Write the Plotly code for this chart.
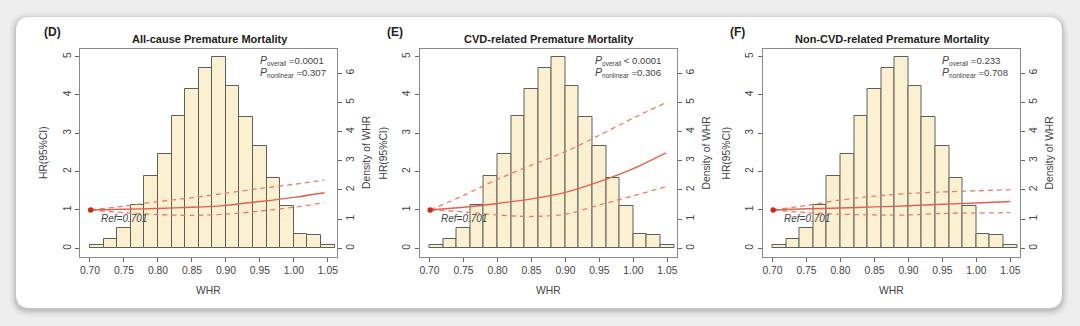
import plotly.graph_objects as go

W, H = 1080, 326

# ---------------- data ----------------
bin_left = [0.70, 0.72, 0.74, 0.76, 0.78, 0.80, 0.82, 0.84, 0.86,
            0.88, 0.90, 0.92, 0.94, 0.96, 0.98, 1.00, 1.02, 1.04]
bin_width = 0.02
density = [0.113, 0.33, 0.71, 1.48, 2.49, 3.24, 4.52, 5.46, 6.17,
           6.55, 5.57, 4.49, 3.50, 2.41, 1.44, 0.48, 0.47, 0.12]

panel_labels = ["(D)", "(E)", "(F)"]
titles = ["All-cause Premature Mortality",
          "CVD-related Premature Mortality",
          "Non-CVD-related Premature Mortality"]
p_overall = ["=0.0001", "< 0.0001", "=0.233"]
p_nonlinear = ["=0.307", "=0.306", "=0.708"]
ref_whr = 0.701
ref_hr = 1.0

whr_D = [0.701, 0.75, 0.80, 0.85, 0.90, 0.95, 1.00, 1.045]
hr_D = [1.0, 1.02, 1.04, 1.07, 1.12, 1.22, 1.33, 1.45]
hr_upper_D = [1.0, 1.10, 1.22, 1.32, 1.44, 1.56, 1.67, 1.78]
hr_lower_D = [1.0, 0.93, 0.88, 0.86, 0.89, 0.97, 1.07, 1.19]

whr_E = [0.701, 0.75, 0.80, 0.85, 0.90, 0.95, 1.00, 1.048]
hr_E = [1.0, 1.07, 1.17, 1.29, 1.46, 1.74, 2.08, 2.49]
hr_upper_E = [1.0, 1.38, 1.80, 2.17, 2.52, 2.95, 3.40, 3.80]
hr_lower_E = [1.0, 0.95, 0.87, 0.83, 0.89, 1.13, 1.37, 1.61]

whr_F = [0.701, 0.75, 0.80, 0.85, 0.90, 0.95, 1.00, 1.05]
hr_F = [1.0, 1.03, 1.05, 1.08, 1.11, 1.15, 1.18, 1.22]
hr_upper_F = [1.0, 1.12, 1.26, 1.36, 1.43, 1.47, 1.50, 1.53]
hr_lower_F = [1.0, 0.93, 0.89, 0.87, 0.87, 0.91, 0.92, 0.93]

x_ticks = [0.70, 0.75, 0.80, 0.85, 0.90, 0.95, 1.00, 1.05]
hr_ticks = [0, 1, 2, 3, 4, 5]
density_ticks = [0, 1, 2, 3, 4, 5, 6]

curves = [
    (whr_D, hr_D, hr_upper_D, hr_lower_D),
    (whr_E, hr_E, hr_upper_E, hr_lower_E),
    (whr_F, hr_F, hr_upper_F, hr_lower_F),
]

# ---------------- style / layout ----------------
FONT = "Liberation Sans, Arial, sans-serif"
TXT = "#444444"
BOX = "#8a8a8a"
BAR_FILL = "#FBF1D1"
BAR_LINE = "#5e5e5e"
RED = "#E4604E"
RED_DASH = "#E87D6C"
DOT = "#C92A1E"

box_left_px = [80, 419.5, 762.5]
box_w_px = 257
box_top_px, box_bot_px = 49, 257
x_range = [0.6853, 1.0635]
hr_range = [-0.227, 5.20]
dens_range = [-0.298, 6.83]


def PX(px):
    return px / W


def PY(py):
    return 1 - py / H


ydom = [PY(box_bot_px), PY(box_top_px)]

fig = go.Figure()
layout = dict(
    width=W, height=H,
    margin=dict(l=0, r=0, t=0, b=0),
    paper_bgcolor="#eeeeee",
    plot_bgcolor="rgba(0,0,0,0)",
    showlegend=False,
    font=dict(family=FONT, color=TXT, size=10.3),
    bargap=0,
)

annotations = []
shapes = []


def rr_path(x0, y0, x1, y1, r):
    return (f"M {PX(x0 + r)},{PY(y0)} L {PX(x1 - r)},{PY(y0)} "
            f"Q {PX(x1)},{PY(y0)} {PX(x1)},{PY(y0 + r)} "
            f"L {PX(x1)},{PY(y1 - r)} Q {PX(x1)},{PY(y1)} {PX(x1 - r)},{PY(y1)} "
            f"L {PX(x0 + r)},{PY(y1)} Q {PX(x0)},{PY(y1)} {PX(x0)},{PY(y1 - r)} "
            f"L {PX(x0)},{PY(y0 + r)} Q {PX(x0)},{PY(y0)} {PX(x0 + r)},{PY(y0)} Z")


# card shadow + card
for k, a in [(7, 0.025), (5, 0.035), (3, 0.05), (1.5, 0.07)]:
    shapes.append(dict(type="path", xref="paper", yref="paper", layer="below",
                       path=rr_path(16 - k, 17 - k + 2, 1062 + k, 308 + k + 2, 14 + k),
                       fillcolor=f"rgba(0,0,0,{a})", line=dict(width=0)))
shapes.append(dict(type="path", xref="paper", yref="paper", layer="below",
                   path=rr_path(16, 17, 1062, 308, 14),
                   fillcolor="#ffffff", line=dict(width=0)))

bar_centers = [b + bin_width / 2 for b in bin_left]

for i in range(3):
    xn = i + 1
    yd = 2 * i + 1   # density axis (right)
    yh = 2 * i + 2   # HR axis (left, overlay)
    xs = "" if xn == 1 else str(xn)
    xref = f"x{xs}"
    yd_ref = "y" if yd == 1 else f"y{yd}"
    yh_ref = f"y{yh}"
    x0 = box_left_px[i]
    x1 = x0 + box_w_px

    layout[f"xaxis{xs}"] = dict(
        domain=[PX(x0), PX(x1)], range=x_range, anchor=yd_ref,
        tickmode="array", tickvals=x_ticks, tickformat=".2f",
        ticks="outside", ticklen=4, tickcolor="#666666", tickwidth=1,
        showline=True, mirror=True, linecolor=BOX, linewidth=1,
        showgrid=False, zeroline=False,
        tickfont=dict(size=10.3, color=TXT, family=FONT),
    )
    layout[f"yaxis{'' if yd == 1 else yd}"] = dict(
        domain=ydom, range=dens_range, anchor=xref, side="right",
        tickmode="array", tickvals=density_ticks, tickangle=-90,
        ticks="outside", ticklen=4, tickcolor="#666666", tickwidth=1,
        showline=True, mirror=True, linecolor=BOX, linewidth=1,
        showgrid=False, zeroline=False,
        tickfont=dict(size=10.3, color=TXT, family=FONT),
    )
    layout[f"yaxis{yh}"] = dict(
        domain=ydom, range=hr_range, anchor=xref, side="left",
        overlaying=yd_ref,
        tickmode="array", tickvals=hr_ticks, tickangle=-90,
        ticks="outside", ticklen=4, tickcolor="#666666", tickwidth=1,
        showline=False, showgrid=False, zeroline=False,
        tickfont=dict(size=10.3, color=TXT, family=FONT),
    )

    fig.add_trace(go.Bar(
        x=bar_centers, y=density, width=bin_width,
        marker=dict(color=BAR_FILL, line=dict(color=BAR_LINE, width=1)),
        xaxis=xref, yaxis=yd_ref, hoverinfo="skip",
    ))

    whr, hr, up, lo = curves[i]
    for yy, col, dash, wdt in [(up, RED_DASH, "5px,4px", 1.3),
                               (lo, RED_DASH, "5px,4px", 1.3),
                               (hr, RED, "solid", 1.4)]:
        fig.add_trace(go.Scatter(
            x=whr, y=yy, mode="lines",
            line=dict(color=col, width=wdt, dash=dash, shape="spline", smoothing=0.8),
            xaxis=xref, yaxis=yh_ref, hoverinfo="skip",
        ))
    fig.add_trace(go.Scatter(
        x=[ref_whr], y=[ref_hr], mode="markers",
        marker=dict(color=DOT, size=5.5),
        xaxis=xref, yaxis=yh_ref, hoverinfo="skip",
    ))

    # texts
    cx = (x0 + x1) / 2
    annotations.append(dict(xref="paper", yref="paper", x=PX(cx + 1), y=PY(39.5),
                            text=f"<b>{titles[i]}</b>", showarrow=False,
                            xanchor="center", yanchor="middle",
                            font=dict(size=11, color="#222222", family=FONT)))
    annotations.append(dict(xref="paper", yref="paper", x=PX(x0 - 28 if i == 0 else x0 - 25),
                            y=PY(32), text=f"<b>{panel_labels[i]}</b>", showarrow=False,
                            xanchor="center", yanchor="middle",
                            font=dict(size=12, color="#222222", family=FONT)))
    annotations.append(dict(xref="paper", yref="paper", x=PX(cx), y=PY(290),
                            text="WHR", showarrow=False,
                            xanchor="center", yanchor="middle",
                            font=dict(size=10.3, color=TXT, family=FONT)))
    annotations.append(dict(xref="paper", yref="paper", x=PX(x0 - 36), y=PY(153),
                            text="HR(95%CI)", showarrow=False, textangle=-90,
                            xanchor="center", yanchor="middle",
                            font=dict(size=10.3, color=TXT, family=FONT)))
    annotations.append(dict(xref="paper", yref="paper", x=PX(x1 + 30), y=PY(153),
                            text="Density of WHR", showarrow=False, textangle=-90,
                            xanchor="center", yanchor="middle",
                            font=dict(size=10.3, color=TXT, family=FONT)))
    p_x = [0.947, 0.940, 0.9465][i]
    sub_style = "font-size:6.5px"
    annotations.append(dict(xref=xref, yref=yh_ref, x=p_x, y=4.89,
                            text=(f"<i><span style='font-size:10.5px'>P</span></i>"
                                  f"<sub><span style='{sub_style}'>overall</span></sub> {p_overall[i]}"),
                            showarrow=False, xanchor="left", yanchor="middle",
                            font=dict(size=9.6, color=TXT, family=FONT)))
    annotations.append(dict(xref=xref, yref=yh_ref, x=p_x, y=4.58,
                            text=(f"<i><span style='font-size:10.5px'>P</span></i>"
                                  f"<sub><span style='{sub_style}'>nonlinear</span></sub> {p_nonlinear[i]}"),
                            showarrow=False, xanchor="left", yanchor="middle",
                            font=dict(size=9.6, color=TXT, family=FONT)))
    annotations.append(dict(xref=xref, yref=yh_ref, x=0.7505, y=0.79,
                            text=f"<i>Ref={ref_whr}</i>",
                            showarrow=False, xanchor="center", yanchor="middle",
                            font=dict(size=10, color=TXT, family=FONT)))

layout["annotations"] = annotations
layout["shapes"] = shapes
fig.update_layout(**layout)
fig.write_html("out.html")
